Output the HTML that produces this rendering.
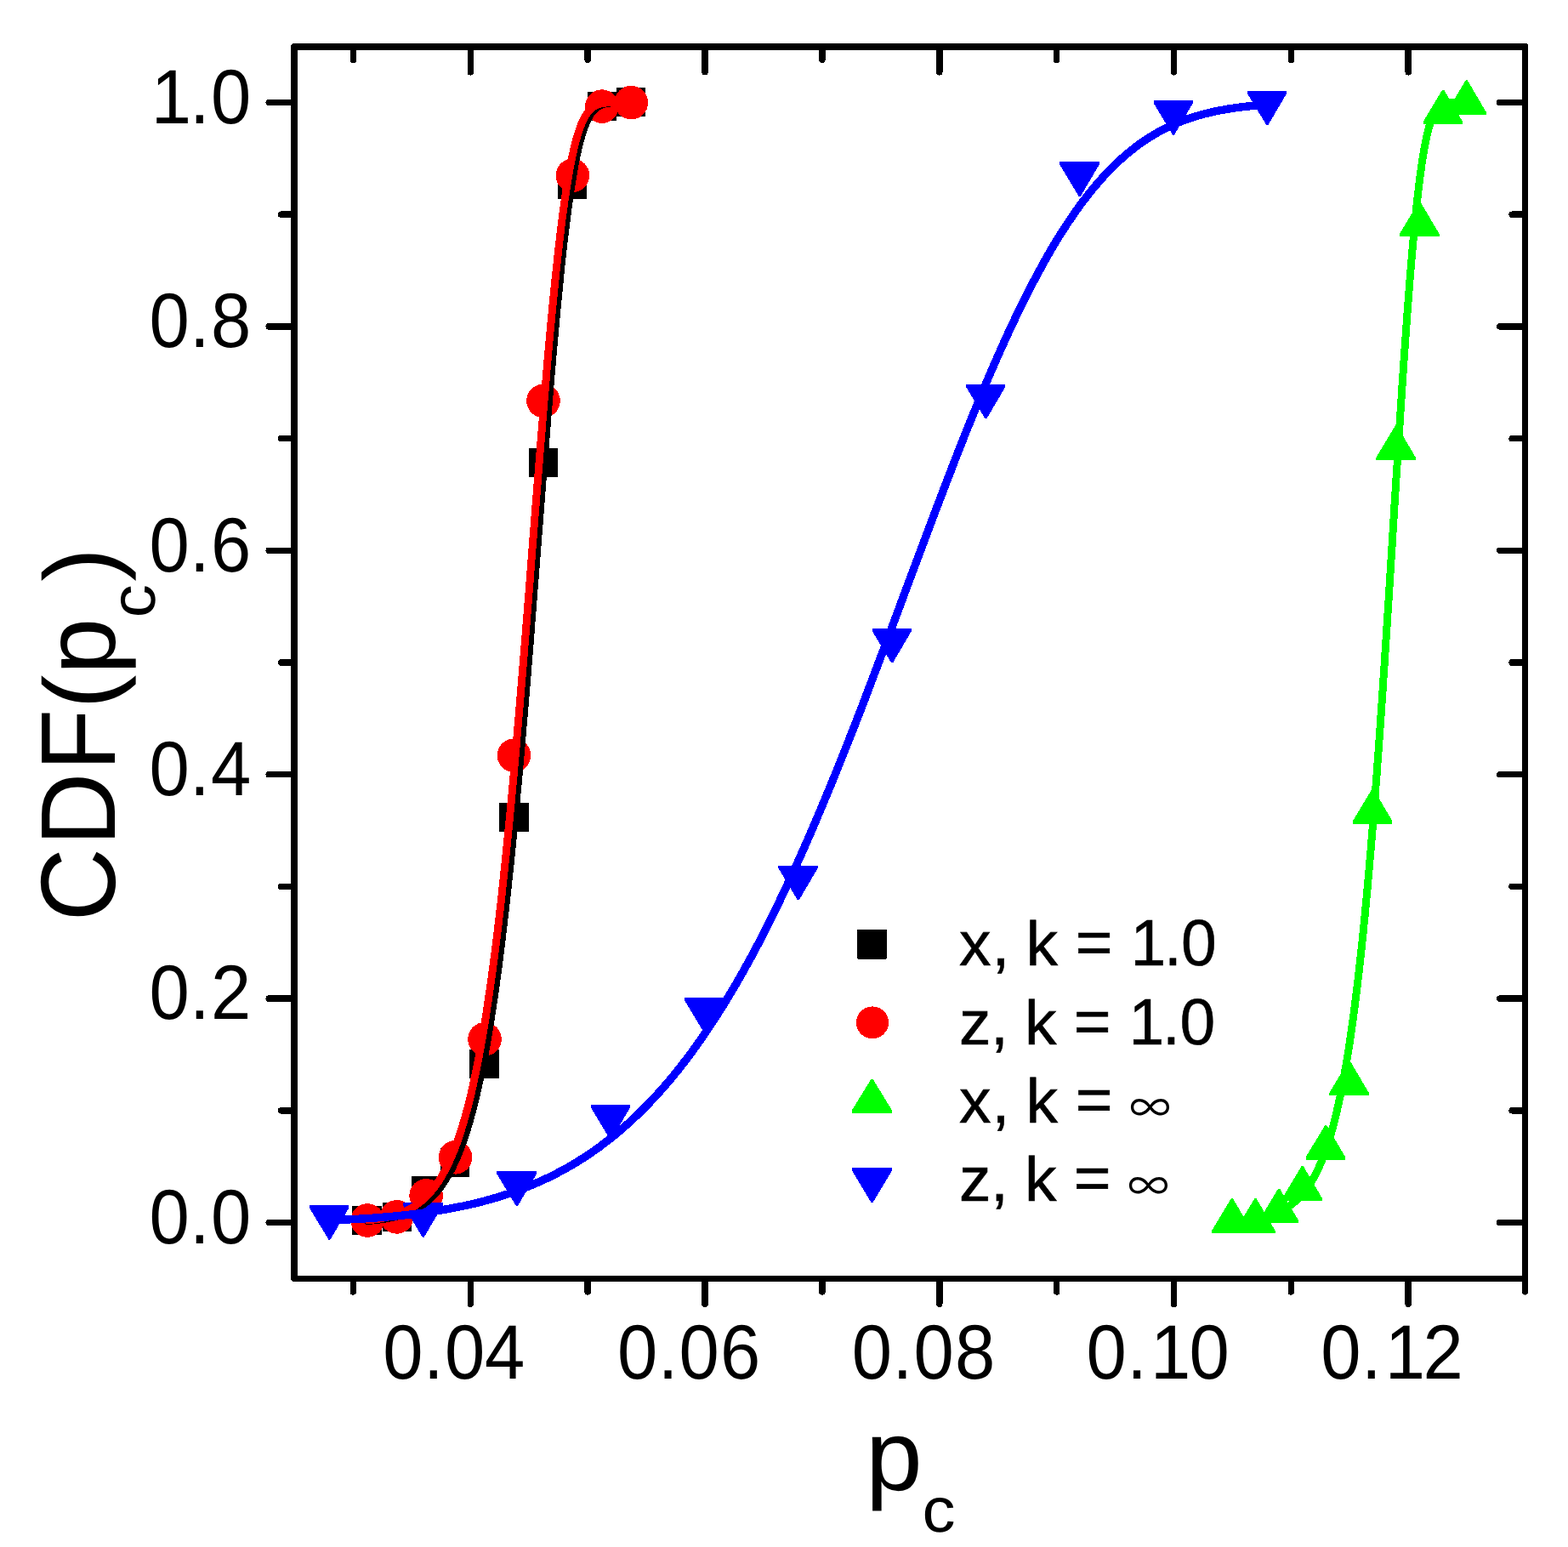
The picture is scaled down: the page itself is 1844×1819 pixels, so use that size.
<!DOCTYPE html>
<html lang="en"><head><meta charset="utf-8"><title>CDF(p_c) plot</title>
<style>html,body{margin:0;padding:0;background:#fff}body{width:1844px;height:1819px;overflow:hidden}svg{display:block}text{font-family:'Liberation Sans', sans-serif;fill:#000}</style>
</head><body>
<svg width="1844" height="1819" viewBox="0 0 1844 1819" shape-rendering="crispEdges" role="img" aria-label="CDF(p_c) versus p_c for x and z, k = 1.0 and k = infinity">
<rect width="1844" height="1819" fill="#fff"/>
<g fill="#000">
<rect x="414" y="1418" width="35" height="34" rx="1.5"/>
<rect x="450" y="1414" width="34" height="34" rx="1.5"/>
<rect x="484" y="1383" width="35" height="34" rx="1.5"/>
<rect x="518" y="1350" width="34" height="34" rx="1.5"/>
<rect x="552" y="1234" width="35" height="34" rx="1.5"/>
<rect x="587" y="944" width="35" height="34" rx="1.5"/>
<rect x="622" y="527" width="34" height="34" rx="1.5"/>
<rect x="656" y="200" width="34" height="34" rx="1.5"/>
<rect x="691" y="108" width="34" height="34" rx="1.5"/>
<rect x="725" y="103" width="34" height="34" rx="1.5"/>
</g>
<g fill="#f00">
<circle cx="432.2" cy="1435.0" r="19.8"/>
<circle cx="466.6" cy="1430.9" r="19.8"/>
<circle cx="501.1" cy="1405.8" r="19.8"/>
<circle cx="535.6" cy="1360.8" r="19.8"/>
<circle cx="570.0" cy="1221.8" r="19.8"/>
<circle cx="604.5" cy="888.2" r="19.8"/>
<circle cx="639.0" cy="471.4" r="19.8"/>
<circle cx="673.4" cy="206.3" r="19.8"/>
<circle cx="707.9" cy="125.1" r="19.8"/>
<circle cx="742.4" cy="120.6" r="19.8"/>
</g>
<g fill="#0f0">
<polygon points="1425.4,1449.8 1425.4,1446.6 1448.0,1409.0 1449.8,1409.0 1471.9,1446.6 1471.9,1449.8"/>
<polygon points="1453.0,1449.8 1453.0,1446.6 1475.6,1409.0 1477.4,1409.0 1499.5,1446.6 1499.5,1449.8"/>
<polygon points="1480.6,1438.4 1480.6,1435.2 1503.2,1397.6 1505.0,1397.6 1527.1,1435.2 1527.1,1438.4"/>
<polygon points="1508.2,1411.7 1508.2,1408.5 1530.8,1370.9 1532.6,1370.9 1554.7,1408.5 1554.7,1411.7"/>
<polygon points="1535.7,1363.7 1535.7,1360.5 1558.3,1322.9 1560.1,1322.9 1582.2,1360.5 1582.2,1363.7"/>
<polygon points="1563.3,1288.1 1563.3,1284.9 1585.9,1247.3 1587.7,1247.3 1609.8,1284.9 1609.8,1288.1"/>
<polygon points="1590.9,968.6 1590.9,965.4 1613.5,927.8 1615.3,927.8 1637.4,965.4 1637.4,968.6"/>
<polygon points="1618.4,541.1 1618.4,537.9 1641.0,500.3 1642.8,500.3 1664.9,537.9 1664.9,541.1"/>
<polygon points="1646.0,278.0 1646.0,274.8 1668.6,237.2 1670.4,237.2 1692.5,274.8 1692.5,278.0"/>
<polygon points="1673.6,146.3 1673.6,143.1 1696.2,105.5 1698.0,105.5 1720.1,143.1 1720.1,146.3"/>
<polygon points="1701.2,134.9 1701.2,131.7 1723.8,94.1 1725.6,94.1 1747.7,131.7 1747.7,134.9"/>
</g>
<g fill="#00f">
<polygon points="363.9,1417.0 410.4,1417.0 410.4,1420.2 388.3,1457.8 386.5,1457.8 363.9,1420.2"/>
<polygon points="474.2,1414.1 520.7,1414.1 520.7,1417.3 498.6,1454.9 496.8,1454.9 474.2,1417.3"/>
<polygon points="584.4,1377.4 630.9,1377.4 630.9,1380.6 608.8,1418.2 607.0,1418.2 584.4,1380.6"/>
<polygon points="694.7,1298.9 741.2,1298.9 741.2,1302.1 719.1,1339.7 717.3,1339.7 694.7,1302.1"/>
<polygon points="805.0,1173.0 851.5,1173.0 851.5,1176.2 829.4,1213.8 827.6,1213.8 805.0,1176.2"/>
<polygon points="915.3,1017.6 961.8,1017.6 961.8,1020.8 939.7,1058.4 937.9,1058.4 915.3,1020.8"/>
<polygon points="1025.6,738.6 1072.1,738.6 1072.1,741.8 1050.0,779.4 1048.2,779.4 1025.6,741.8"/>
<polygon points="1135.9,451.6 1182.4,451.6 1182.4,454.8 1160.3,492.4 1158.5,492.4 1135.9,454.8"/>
<polygon points="1246.2,190.4 1292.7,190.4 1292.7,193.6 1270.6,231.2 1268.8,231.2 1246.2,193.6"/>
<polygon points="1356.5,117.9 1403.0,117.9 1403.0,121.1 1380.9,158.7 1379.1,158.7 1356.5,121.1"/>
<polygon points="1466.8,106.5 1513.3,106.5 1513.3,109.7 1491.2,147.3 1489.4,147.3 1466.8,109.7"/>
</g>
<g fill="none" stroke-width="9" stroke-linejoin="round" stroke-linecap="round">
<path stroke="#000" d="M432.2,1435.5 L433.5,1435.4 L434.8,1435.3 L436.0,1435.2 L437.3,1435.1 L438.6,1434.9 L439.9,1434.8 L441.2,1434.7 L442.5,1434.5 L443.8,1434.4 L445.1,1434.2 L446.4,1434.1 L447.7,1433.9 L449.0,1433.7 L450.3,1433.5 L451.6,1433.3 L452.8,1433.1 L454.1,1432.9 L455.4,1432.7 L456.7,1432.4 L458.0,1432.2 L459.3,1431.9 L460.6,1431.7 L461.9,1431.4 L463.2,1431.1 L464.5,1430.8 L465.8,1430.5 L467.1,1430.1 L468.4,1429.8 L469.6,1429.4 L470.9,1429.0 L472.2,1428.6 L473.5,1428.2 L474.8,1427.8 L476.1,1427.3 L477.4,1426.8 L478.7,1426.3 L480.0,1425.8 L481.3,1425.3 L482.6,1424.7 L483.9,1424.1 L485.2,1423.5 L486.5,1422.9 L487.7,1422.2 L489.0,1421.5 L490.3,1420.8 L491.6,1420.0 L492.9,1419.2 L494.2,1418.4 L495.5,1417.6 L496.8,1416.7 L498.1,1415.8 L499.4,1414.8 L500.7,1413.8 L502.0,1412.8 L503.3,1411.7 L504.5,1410.5 L505.8,1409.4 L507.1,1408.1 L508.4,1406.9 L509.7,1405.5 L511.0,1404.2 L512.3,1402.7 L513.6,1401.2 L514.9,1399.7 L516.2,1398.1 L517.5,1396.4 L518.8,1394.7 L520.1,1392.8 L521.3,1391.0 L522.6,1389.0 L523.9,1387.0 L525.2,1384.9 L526.5,1382.7 L527.8,1380.5 L529.1,1378.1 L530.4,1375.7 L531.7,1373.1 L533.0,1370.5 L534.3,1367.8 L535.6,1365.0 L536.9,1362.0 L538.2,1359.0 L539.4,1355.9 L540.7,1352.6 L542.0,1349.3 L543.3,1345.8 L544.6,1342.1 L545.9,1338.4 L547.2,1334.5 L548.5,1330.5 L549.8,1326.4 L551.1,1322.1 L552.4,1317.7 L553.7,1313.1 L555.0,1308.3 L556.2,1303.4 L557.5,1298.4 L558.8,1293.1 L560.1,1287.7 L561.4,1282.2 L562.7,1276.4 L564.0,1270.5 L565.3,1264.3 L566.6,1258.0 L567.9,1251.5 L569.2,1244.8 L570.5,1237.9 L571.8,1230.7 L573.0,1223.4 L574.3,1215.8 L575.6,1208.1 L576.9,1200.1 L578.2,1191.8 L579.5,1183.4 L580.8,1174.7 L582.1,1165.7 L583.4,1156.6 L584.7,1147.2 L586.0,1137.5 L587.3,1127.6 L588.6,1117.4 L589.9,1107.0 L591.1,1096.3 L592.4,1085.4 L593.7,1074.2 L595.0,1062.8 L596.3,1051.1 L597.6,1039.2 L598.9,1027.0 L600.2,1014.5 L601.5,1001.8 L602.8,988.8 L604.1,975.6 L605.4,962.2 L606.7,948.5 L607.9,934.5 L609.2,920.4 L610.5,906.0 L611.8,891.4 L613.1,876.5 L614.4,861.5 L615.7,846.3 L617.0,830.9 L618.3,815.3 L619.6,799.5 L620.9,783.6 L622.2,767.6 L623.5,751.4 L624.7,735.1 L626.0,718.7 L627.3,702.2 L628.6,685.7 L629.9,669.1 L631.2,652.4 L632.5,635.7 L633.8,619.1 L635.1,602.4 L636.4,585.8 L637.7,569.2 L639.0,552.8 L640.3,536.4 L641.6,520.1 L642.8,504.0 L644.1,488.0 L645.4,472.2 L646.7,456.6 L648.0,441.3 L649.3,426.2 L650.6,411.3 L651.9,396.7 L653.2,382.4 L654.5,368.5 L655.8,354.9 L657.1,341.6 L658.4,328.7 L659.6,316.1 L660.9,304.0 L662.2,292.3 L663.5,281.0 L664.8,270.1 L666.1,259.6 L667.4,249.6 L668.7,240.0 L670.0,230.9 L671.3,222.2 L672.6,214.0 L673.9,206.2 L675.2,198.8 L676.4,191.9 L677.7,185.4 L679.0,179.3 L680.3,173.7 L681.6,168.4 L682.9,163.5 L684.2,159.0 L685.5,154.8 L686.8,151.0 L688.1,147.5 L689.4,144.4 L690.7,141.5 L692.0,138.9 L693.3,136.5 L694.5,134.4 L695.8,132.5 L697.1,130.9 L698.4,129.4 L699.7,128.1 L701.0,126.9 L702.3,126.0 L703.6,125.1 L704.9,124.3 L706.2,123.7 L707.5,123.1 L708.8,122.7 L710.1,122.3 L711.3,122.0 L712.6,121.7 L713.9,121.4 L715.2,121.3 L716.5,121.1 L717.8,121.0 L719.1,120.9 L720.4,120.8 L721.7,120.7 L723.0,120.7 L724.3,120.6 L725.6,120.6 L726.9,120.6 L728.1,120.6 L729.4,120.5 L730.7,120.5 L732.0,120.5 L733.3,120.5 L734.6,120.5 L735.9,120.5 L737.2,120.5 L738.5,120.5 L739.8,120.5 L741.1,120.5 L742.4,120.5"/>
<path stroke="#f00" d="M432.2,1434.8 L433.5,1434.7 L434.8,1434.6 L436.0,1434.4 L437.3,1434.3 L438.6,1434.1 L439.9,1433.9 L441.2,1433.8 L442.5,1433.6 L443.8,1433.4 L445.1,1433.2 L446.4,1433.0 L447.7,1432.7 L449.0,1432.5 L450.3,1432.3 L451.6,1432.0 L452.8,1431.8 L454.1,1431.5 L455.4,1431.2 L456.7,1430.9 L458.0,1430.6 L459.3,1430.2 L460.6,1429.9 L461.9,1429.5 L463.2,1429.2 L464.5,1428.8 L465.8,1428.4 L467.1,1427.9 L468.4,1427.5 L469.6,1427.0 L470.9,1426.5 L472.2,1426.0 L473.5,1425.5 L474.8,1425.0 L476.1,1424.4 L477.4,1423.8 L478.7,1423.2 L480.0,1422.5 L481.3,1421.8 L482.6,1421.1 L483.9,1420.4 L485.2,1419.6 L486.5,1418.8 L487.7,1418.0 L489.0,1417.1 L490.3,1416.2 L491.6,1415.3 L492.9,1414.3 L494.2,1413.3 L495.5,1412.3 L496.8,1411.2 L498.1,1410.0 L499.4,1408.8 L500.7,1407.6 L502.0,1406.3 L503.3,1405.0 L504.5,1403.6 L505.8,1402.1 L507.1,1400.6 L508.4,1399.1 L509.7,1397.5 L511.0,1395.8 L512.3,1394.0 L513.6,1392.2 L514.9,1390.3 L516.2,1388.4 L517.5,1386.3 L518.8,1384.2 L520.1,1382.1 L521.3,1379.8 L522.6,1377.4 L523.9,1375.0 L525.2,1372.5 L526.5,1369.8 L527.8,1367.1 L529.1,1364.3 L530.4,1361.4 L531.7,1358.3 L533.0,1355.2 L534.3,1352.0 L535.6,1348.6 L536.9,1345.1 L538.2,1341.5 L539.4,1337.8 L540.7,1333.9 L542.0,1329.9 L543.3,1325.8 L544.6,1321.5 L545.9,1317.1 L547.2,1312.6 L548.5,1307.9 L549.8,1303.0 L551.1,1298.0 L552.4,1292.8 L553.7,1287.4 L555.0,1281.9 L556.2,1276.2 L557.5,1270.3 L558.8,1264.2 L560.1,1258.0 L561.4,1251.5 L562.7,1244.9 L564.0,1238.0 L565.3,1231.0 L566.6,1223.7 L567.9,1216.3 L569.2,1208.6 L570.5,1200.7 L571.8,1192.6 L573.0,1184.2 L574.3,1175.7 L575.6,1166.8 L576.9,1157.8 L578.2,1148.5 L579.5,1139.0 L580.8,1129.2 L582.1,1119.2 L583.4,1109.0 L584.7,1098.5 L586.0,1087.7 L587.3,1076.7 L588.6,1065.5 L589.9,1054.0 L591.1,1042.2 L592.4,1030.2 L593.7,1018.0 L595.0,1005.5 L596.3,992.7 L597.6,979.8 L598.9,966.5 L600.2,953.1 L601.5,939.4 L602.8,925.5 L604.1,911.3 L605.4,897.0 L606.7,882.4 L607.9,867.6 L609.2,852.7 L610.5,837.5 L611.8,822.2 L613.1,806.7 L614.4,791.1 L615.7,775.3 L617.0,759.4 L618.3,743.3 L619.6,727.2 L620.9,710.9 L622.2,694.6 L623.5,678.2 L624.7,661.8 L626.0,645.4 L627.3,628.9 L628.6,612.4 L629.9,596.0 L631.2,579.6 L632.5,563.3 L633.8,547.1 L635.1,530.9 L636.4,514.9 L637.7,499.1 L639.0,483.3 L640.3,467.8 L641.6,452.5 L642.8,437.4 L644.1,422.5 L645.4,407.9 L646.7,393.6 L648.0,379.6 L649.3,365.9 L650.6,352.5 L651.9,339.5 L653.2,326.8 L654.5,314.5 L655.8,302.6 L657.1,291.0 L658.4,279.9 L659.6,269.2 L660.9,258.9 L662.2,249.1 L663.5,239.7 L664.8,230.7 L666.1,222.1 L667.4,214.0 L668.7,206.3 L670.0,199.0 L671.3,192.2 L672.6,185.8 L673.9,179.8 L675.2,174.1 L676.4,168.9 L677.7,164.0 L679.0,159.5 L680.3,155.4 L681.6,151.6 L682.9,148.1 L684.2,144.9 L685.5,142.0 L686.8,139.4 L688.1,137.0 L689.4,134.9 L690.7,133.0 L692.0,131.3 L693.3,129.8 L694.5,128.5 L695.8,127.3 L697.1,126.3 L698.4,125.4 L699.7,124.6 L701.0,123.9 L702.3,123.4 L703.6,122.9 L704.9,122.4 L706.2,122.1 L707.5,121.8 L708.8,121.5 L710.1,121.3 L711.3,121.2 L712.6,121.0 L713.9,120.9 L715.2,120.8 L716.5,120.8 L717.8,120.7 L719.1,120.7 L720.4,120.6 L721.7,120.6 L723.0,120.6 L724.3,120.5 L725.6,120.5 L726.9,120.5 L728.1,120.5 L729.4,120.5 L730.7,120.5 L732.0,120.5 L733.3,120.5 L734.6,120.5 L735.9,120.5 L737.2,120.5 L738.5,120.5 L739.8,120.5 L741.1,120.5 L742.4,120.5"/>
<path stroke="#0f0" d="M1448.9,1435.8 L1450.1,1435.7 L1451.2,1435.7 L1452.4,1435.6 L1453.5,1435.5 L1454.7,1435.4 L1455.8,1435.3 L1457.0,1435.2 L1458.1,1435.1 L1459.3,1435.0 L1460.4,1434.9 L1461.6,1434.8 L1462.7,1434.7 L1463.9,1434.6 L1465.0,1434.4 L1466.2,1434.3 L1467.3,1434.2 L1468.5,1434.0 L1469.6,1433.9 L1470.8,1433.7 L1471.9,1433.6 L1473.1,1433.4 L1474.2,1433.2 L1475.4,1433.0 L1476.5,1432.8 L1477.7,1432.6 L1478.8,1432.4 L1480.0,1432.2 L1481.1,1432.0 L1482.3,1431.7 L1483.4,1431.5 L1484.5,1431.2 L1485.7,1431.0 L1486.8,1430.7 L1488.0,1430.4 L1489.1,1430.1 L1490.3,1429.8 L1491.4,1429.5 L1492.6,1429.1 L1493.7,1428.8 L1494.9,1428.4 L1496.0,1428.0 L1497.2,1427.6 L1498.3,1427.2 L1499.5,1426.8 L1500.6,1426.3 L1501.8,1425.9 L1502.9,1425.4 L1504.1,1424.9 L1505.2,1424.3 L1506.4,1423.8 L1507.5,1423.2 L1508.7,1422.6 L1509.8,1422.0 L1511.0,1421.4 L1512.1,1420.7 L1513.3,1420.0 L1514.4,1419.3 L1515.6,1418.5 L1516.7,1417.7 L1517.9,1416.9 L1519.0,1416.1 L1520.2,1415.2 L1521.3,1414.3 L1522.5,1413.3 L1523.6,1412.3 L1524.8,1411.3 L1525.9,1410.2 L1527.1,1409.1 L1528.2,1407.9 L1529.4,1406.7 L1530.5,1405.5 L1531.7,1404.1 L1532.8,1402.8 L1534.0,1401.4 L1535.1,1399.9 L1536.2,1398.4 L1537.4,1396.8 L1538.5,1395.2 L1539.7,1393.4 L1540.8,1391.7 L1542.0,1389.8 L1543.1,1387.9 L1544.3,1385.9 L1545.4,1383.9 L1546.6,1381.7 L1547.7,1379.5 L1548.9,1377.2 L1550.0,1374.8 L1551.2,1372.3 L1552.3,1369.7 L1553.5,1367.0 L1554.6,1364.2 L1555.8,1361.3 L1556.9,1358.3 L1558.1,1355.2 L1559.2,1352.0 L1560.4,1348.7 L1561.5,1345.2 L1562.7,1341.6 L1563.8,1337.9 L1565.0,1334.0 L1566.1,1330.0 L1567.3,1325.9 L1568.4,1321.6 L1569.6,1317.1 L1570.7,1312.5 L1571.9,1307.7 L1573.0,1302.8 L1574.2,1297.7 L1575.3,1292.4 L1576.5,1286.9 L1577.6,1281.3 L1578.8,1275.4 L1579.9,1269.4 L1581.1,1263.1 L1582.2,1256.7 L1583.4,1250.0 L1584.5,1243.1 L1585.7,1236.0 L1586.8,1228.6 L1587.9,1221.0 L1589.1,1213.2 L1590.2,1205.1 L1591.4,1196.8 L1592.5,1188.2 L1593.7,1179.3 L1594.8,1170.2 L1596.0,1160.8 L1597.1,1151.2 L1598.3,1141.2 L1599.4,1131.0 L1600.6,1120.5 L1601.7,1109.7 L1602.9,1098.6 L1604.0,1087.2 L1605.2,1075.5 L1606.3,1063.5 L1607.5,1051.2 L1608.6,1038.6 L1609.8,1025.7 L1610.9,1012.5 L1612.1,999.0 L1613.2,985.2 L1614.4,971.1 L1615.5,956.7 L1616.7,941.9 L1617.8,926.9 L1619.0,911.7 L1620.1,896.1 L1621.3,880.3 L1622.4,864.2 L1623.6,847.8 L1624.7,831.2 L1625.9,814.4 L1627.0,797.3 L1628.2,780.1 L1629.3,762.6 L1630.5,745.0 L1631.6,727.2 L1632.8,709.3 L1633.9,691.3 L1635.1,673.2 L1636.2,654.9 L1637.4,636.7 L1638.5,618.4 L1639.6,600.1 L1640.8,581.8 L1641.9,563.5 L1643.1,545.4 L1644.2,527.3 L1645.4,509.4 L1646.5,491.6 L1647.7,474.0 L1648.8,456.7 L1650.0,439.5 L1651.1,422.7 L1652.3,406.2 L1653.4,390.0 L1654.6,374.2 L1655.7,358.7 L1656.9,343.7 L1658.0,329.1 L1659.2,315.0 L1660.3,301.3 L1661.5,288.2 L1662.6,275.6 L1663.8,263.5 L1664.9,251.9 L1666.1,240.9 L1667.2,230.5 L1668.4,220.7 L1669.5,211.4 L1670.7,202.6 L1671.8,194.5 L1673.0,186.8 L1674.1,179.8 L1675.3,173.2 L1676.4,167.2 L1677.6,161.7 L1678.7,156.7 L1679.9,152.1 L1681.0,148.0 L1682.2,144.3 L1683.3,140.9 L1684.5,138.0 L1685.6,135.4 L1686.8,133.1 L1687.9,131.1 L1689.1,129.3 L1690.2,127.8 L1691.3,126.5 L1692.5,125.4 L1693.6,124.5 L1694.8,123.7 L1695.9,123.1 L1697.1,122.5 L1698.2,122.1 L1699.4,121.8 L1700.5,121.5 L1701.7,121.2 L1702.8,121.1 L1704.0,120.9 L1705.1,120.8 L1706.3,120.7 L1707.4,120.7 L1708.6,120.6 L1709.7,120.6 L1710.9,120.6 L1712.0,120.5 L1713.2,120.5 L1714.3,120.5 L1715.5,120.5 L1716.6,120.5 L1717.8,120.5 L1718.9,120.5 L1720.1,120.5 L1721.2,120.5 L1722.4,120.5 L1723.5,120.5 L1724.7,120.5"/>
<path stroke="#00f" stroke-width="9.4" d="M387.4,1435.0 L392.0,1434.8 L396.6,1434.6 L401.1,1434.4 L405.7,1434.2 L410.3,1433.9 L414.9,1433.7 L419.5,1433.4 L424.1,1433.1 L428.7,1432.9 L433.3,1432.5 L437.9,1432.2 L442.5,1431.9 L447.1,1431.5 L451.7,1431.1 L456.3,1430.8 L460.9,1430.3 L465.5,1429.9 L470.1,1429.4 L474.7,1429.0 L479.3,1428.4 L483.9,1427.9 L488.5,1427.4 L493.1,1426.8 L497.7,1426.2 L502.2,1425.5 L506.8,1424.8 L511.4,1424.1 L516.0,1423.4 L520.6,1422.6 L525.2,1421.8 L529.8,1421.0 L534.4,1420.1 L539.0,1419.2 L543.6,1418.3 L548.2,1417.3 L552.8,1416.3 L557.4,1415.2 L562.0,1414.1 L566.6,1412.9 L571.2,1411.7 L575.8,1410.4 L580.4,1409.1 L585.0,1407.8 L589.6,1406.4 L594.2,1404.9 L598.8,1403.4 L603.4,1401.8 L607.9,1400.2 L612.5,1398.5 L617.1,1396.7 L621.7,1394.9 L626.3,1393.0 L630.9,1391.0 L635.5,1389.0 L640.1,1386.9 L644.7,1384.7 L649.3,1382.4 L653.9,1380.1 L658.5,1377.7 L663.1,1375.2 L667.7,1372.7 L672.3,1370.0 L676.9,1367.3 L681.5,1364.4 L686.1,1361.5 L690.7,1358.5 L695.3,1355.4 L699.9,1352.2 L704.5,1348.9 L709.0,1345.5 L713.6,1342.0 L718.2,1338.4 L722.8,1334.7 L727.4,1330.9 L732.0,1327.0 L736.6,1322.9 L741.2,1318.8 L745.8,1314.5 L750.4,1310.1 L755.0,1305.6 L759.6,1301.0 L764.2,1296.2 L768.8,1291.3 L773.4,1286.3 L778.0,1281.2 L782.6,1275.9 L787.2,1270.6 L791.8,1265.0 L796.4,1259.4 L801.0,1253.6 L805.6,1247.6 L810.2,1241.6 L814.7,1235.4 L819.3,1229.0 L823.9,1222.5 L828.5,1215.9 L833.1,1209.1 L837.7,1202.1 L842.3,1195.1 L846.9,1187.8 L851.5,1180.5 L856.1,1172.9 L860.7,1165.3 L865.3,1157.4 L869.9,1149.5 L874.5,1141.3 L879.1,1133.1 L883.7,1124.7 L888.3,1116.1 L892.9,1107.4 L897.5,1098.5 L902.1,1089.5 L906.7,1080.3 L911.3,1071.0 L915.8,1061.6 L920.4,1052.0 L925.0,1042.3 L929.6,1032.4 L934.2,1022.4 L938.8,1012.3 L943.4,1002.0 L948.0,991.6 L952.6,981.1 L957.2,970.4 L961.8,959.6 L966.4,948.7 L971.0,937.7 L975.6,926.6 L980.2,915.4 L984.8,904.0 L989.4,892.6 L994.0,881.1 L998.6,869.5 L1003.2,857.7 L1007.8,846.0 L1012.4,834.1 L1017.0,822.2 L1021.5,810.2 L1026.1,798.1 L1030.7,786.0 L1035.3,773.8 L1039.9,761.6 L1044.5,749.4 L1049.1,737.1 L1053.7,724.8 L1058.3,712.5 L1062.9,700.1 L1067.5,687.8 L1072.1,675.5 L1076.7,663.1 L1081.3,650.8 L1085.9,638.6 L1090.5,626.3 L1095.1,614.1 L1099.7,601.9 L1104.3,589.8 L1108.9,577.8 L1113.5,565.8 L1118.1,553.9 L1122.6,542.1 L1127.2,530.3 L1131.8,518.7 L1136.4,507.1 L1141.0,495.7 L1145.6,484.4 L1150.2,473.2 L1154.8,462.1 L1159.4,451.2 L1164.0,440.4 L1168.6,429.8 L1173.2,419.3 L1177.8,409.0 L1182.4,398.8 L1187.0,388.8 L1191.6,379.0 L1196.2,369.4 L1200.8,359.9 L1205.4,350.6 L1210.0,341.5 L1214.6,332.7 L1219.2,324.0 L1223.8,315.5 L1228.3,307.2 L1232.9,299.1 L1237.5,291.3 L1242.1,283.6 L1246.7,276.1 L1251.3,268.9 L1255.9,261.9 L1260.5,255.1 L1265.1,248.5 L1269.7,242.1 L1274.3,235.9 L1278.9,229.9 L1283.5,224.2 L1288.1,218.6 L1292.7,213.3 L1297.3,208.1 L1301.9,203.2 L1306.5,198.4 L1311.1,193.9 L1315.7,189.5 L1320.3,185.4 L1324.9,181.4 L1329.4,177.6 L1334.0,174.0 L1338.6,170.5 L1343.2,167.2 L1347.8,164.1 L1352.4,161.2 L1357.0,158.3 L1361.6,155.7 L1366.2,153.2 L1370.8,150.8 L1375.4,148.6 L1380.0,146.5 L1384.6,144.5 L1389.2,142.7 L1393.8,140.9 L1398.4,139.3 L1403.0,137.8 L1407.6,136.4 L1412.2,135.0 L1416.8,133.8 L1421.4,132.7 L1426.0,131.6 L1430.6,130.6 L1435.1,129.7 L1439.7,128.9 L1444.3,128.1 L1448.9,127.4 L1453.5,126.7 L1458.1,126.1 L1462.7,125.5 L1467.3,125.0 L1471.9,124.6 L1476.5,124.2 L1481.1,123.8 L1485.7,123.4 L1490.3,123.1"/>
</g>
<g fill="#000">
<path d="M342,53 L344,51 L1795,51 L1797,52 L1797,1507 L344,1507 L342,1505 Z M350,59 L350,1500 L1790,1500 L1790,59 Z" fill-rule="evenodd"/>
</g>
<g fill="none" stroke="#000" stroke-linecap="round">
<path stroke-width="7.5" d="M415.43,1503.50v15.4M415.43,55.00v15.4M553.30,1503.50v29.8M553.30,55.00v29.8M691.17,1503.50v15.4M691.17,55.00v15.4M829.03,1503.50v29.8M829.03,55.00v29.8M966.90,1503.50v15.4M966.90,55.00v15.4M1104.77,1503.50v29.8M1104.77,55.00v29.8M1242.63,1503.50v15.4M1242.63,55.00v15.4M1380.50,1503.50v29.8M1380.50,55.00v29.8M1518.37,1503.50v15.4M1518.37,55.00v15.4M1656.23,1503.50v29.8M1656.23,55.00v29.8M1793.50,1503.50v15.4M1793.50,55.00v15.4M346.00,1437.50h-29.8M1793.50,1437.50h-29.8M346.00,1305.80h-15.4M1793.50,1305.80h-15.4M346.00,1174.10h-29.8M1793.50,1174.10h-29.8M346.00,1042.40h-15.4M1793.50,1042.40h-15.4M346.00,910.70h-29.8M1793.50,910.70h-29.8M346.00,779.00h-15.4M1793.50,779.00h-15.4M346.00,647.30h-29.8M1793.50,647.30h-29.8M346.00,515.60h-15.4M1793.50,515.60h-15.4M346.00,383.90h-29.8M1793.50,383.90h-29.8M346.00,252.20h-15.4M1793.50,252.20h-15.4M346.00,120.50h-29.8M1793.50,120.50h-29.8"/>
</g>
<g text-rendering="geometricPrecision">
<text transform="translate(0.0,1461.7) scale(1,1.0660)" x="175.5 223.1 248.0" y="0" font-size="85">0.0</text>
<text transform="translate(0.0,1198.3) scale(1,1.0660)" x="175.5 223.1 248.0" y="0" font-size="85">0.2</text>
<text transform="translate(0.0,934.9) scale(1,1.0660)" x="175.5 223.1 248.0" y="0" font-size="85">0.4</text>
<text transform="translate(0.0,671.5) scale(1,1.0660)" x="175.5 223.1 248.0" y="0" font-size="85">0.6</text>
<text transform="translate(0.0,408.1) scale(1,1.0660)" x="175.5 223.1 248.0" y="0" font-size="85">0.8</text>
<text transform="translate(0.0,144.7) scale(1,1.0660)" x="177.8 223.1 248.0" y="0" font-size="85">1.0</text>
<text transform="translate(552.8,1620.9) scale(1,1.0660)" x="-102.5 -54.7 -29.9 17.1" y="0" font-size="85">0.04</text>
<text transform="translate(828.5,1620.9) scale(1,1.0660)" x="-102.5 -54.7 -29.9 18.4" y="0" font-size="85">0.06</text>
<text transform="translate(1104.3,1620.9) scale(1,1.0660)" x="-102.5 -54.7 -29.9 18.6" y="0" font-size="85">0.08</text>
<text transform="translate(1380.0,1620.9) scale(1,1.0660)" x="-102.5 -54.7 -26.9 18.4" y="0" font-size="85">0.10</text>
<text transform="translate(1655.7,1620.9) scale(1,1.0660)" x="-102.5 -54.7 -26.9 17.7" y="0" font-size="85">0.12</text>
<text transform="translate(1018.0,1752.4) scale(1,0.9800)" x="0.0" y="0" font-size="120">p</text>
<text transform="translate(1084.5,1800.7) scale(1,0.9550)" x="0.0" y="0" font-size="78">c</text>
<text transform="translate(134.9,1083.2) rotate(-90) scale(1,1.0500)" x="0.0 88.7 176.8" y="0" font-size="119">CDF</text>
<text transform="translate(134.9,1083.2) rotate(-90)" x="250.0 290.2" y="0" font-size="119">(p</text>
<text transform="translate(182.3,1083.2) rotate(-90) scale(1,0.9550)" x="357.0" y="0" font-size="78">c</text>
<text transform="translate(134.9,1083.2) rotate(-90)" x="399.5" y="0" font-size="119">)</text>
<text transform="translate(0.0,1135.1) scale(1,0.9800)" x="1127.9 1166.5 1187.0 1206.5 1244.0 1264.8" y="0 0 0 0 0 -2" font-size="75" stroke="#000" stroke-width="0.6">x, k =</text>
<text transform="translate(0.0,1135.1) scale(1,1.0270)" x="1329.4 1369.0 1389.0" y="0" font-size="75" stroke="#000" stroke-width="0.5">1.0</text>
<text transform="translate(0.0,1227.9) scale(1,0.9800)" x="1128.0 1165.0 1185.5 1204.9 1242.5 1262.7" y="0 0 0 0 0 -2" font-size="75" stroke="#000" stroke-width="0.6">z, k =</text>
<text transform="translate(0.0,1227.9) scale(1,1.0270)" x="1327.5 1367.0 1387.5" y="0" font-size="75" stroke="#000" stroke-width="0.5">1.0</text>
<text transform="translate(0.0,1319.9) scale(1,0.9800)" x="1127.9 1166.5 1187.0 1206.5 1244.0 1264.8" y="0 0 0 0 0 -2" font-size="75" stroke="#000" stroke-width="0.6">x, k =</text>
<text transform="translate(0.0,1319.9)" x="1328.2" y="0" font-size="48.5" style="font-family:'Noto Sans CJK SC','Liberation Sans',sans-serif">∞</text>
<text transform="translate(0.0,1412.2) scale(1,0.9800)" x="1128.0 1165.0 1185.5 1204.9 1242.5 1262.7" y="0 0 0 0 0 -2" font-size="75" stroke="#000" stroke-width="0.6">z, k =</text>
<text transform="translate(0.0,1412.2)" x="1326.2" y="0" font-size="48.5" style="font-family:'Noto Sans CJK SC','Liberation Sans',sans-serif">∞</text>
</g>
<rect x="1007.9" y="1092.8" width="35" height="35" rx="1.5" fill="#000"/>
<circle cx="1026" cy="1202.4" r="19" fill="#f00"/>
<g fill="#0f0"><polygon points="1001.7,1309.0 1001.7,1305.8 1024.6,1268.5 1026.4,1268.5 1049.2,1305.8 1049.2,1309.0"/></g>
<g fill="#00f"><polygon points="1001.7,1372.9 1049.2,1372.9 1049.2,1376.1 1026.4,1414.1 1024.6,1414.1 1001.7,1376.1"/></g>
</svg>
</body></html>
